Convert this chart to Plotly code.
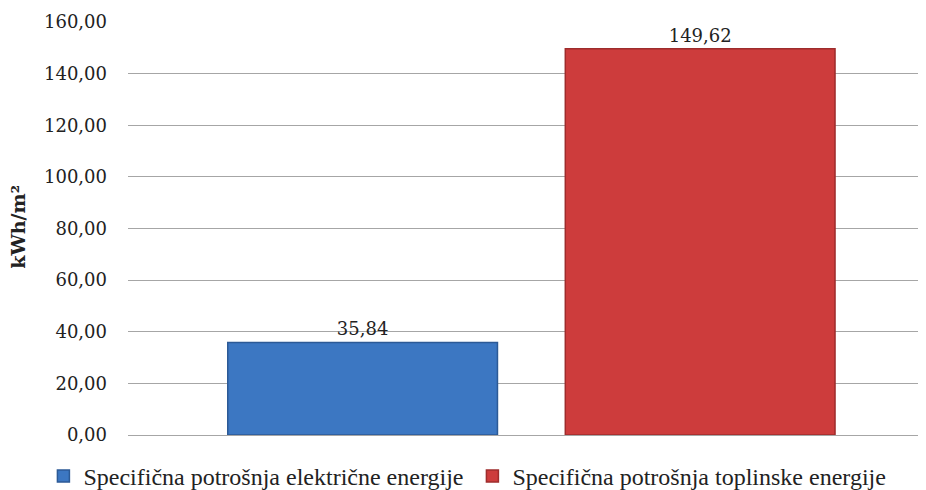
import plotly.graph_objects as go

category = [""]
series_names = ["Specifična potrošnja električne energije", "Specifična potrošnja toplinske energije"]
series_values = [[35.84], [149.62]]
colors = ["#3c77c2", "#cd3c3c"]
line_colors = ["#2c5a96", "#9e2c2c"]
offsets = [-0.375, 0.048]
bar_width = 0.338
y_ticks = [0, 20, 40, 60, 80, 100, 120, 140, 160]
y_title = "<b>kWh/m²</b>"

fig = go.Figure()
for name, vals, c, lc, off in zip(series_names, series_values, colors, line_colors, offsets):
    fig.add_trace(go.Bar(
        x=category, y=vals, name=name,
        marker=dict(color=c, line=dict(color=lc, width=1.5)),
        width=bar_width, offset=off,
        text=vals, texttemplate="%{y:.2f}", textposition="outside",
        textfont=dict(family="DejaVu Serif", size=18, color="#222222"),
        cliponaxis=False,
    ))

fig.add_annotation(text=y_title, xref="paper", yref="paper", x=-0.1375, y=0.505,
                   xanchor="center", yanchor="middle", textangle=-90, showarrow=False,
                   font=dict(family="DejaVu Serif", size=19, color="#222222"))

fig.update_layout(
    width=926, height=490,
    margin=dict(l=120, r=8, t=14, b=63, autoexpand=False),
    paper_bgcolor="white", plot_bgcolor="white",
    separators=",.",
    showlegend=True,
    legend=dict(orientation="h", x=-0.106, xanchor="left", y=-0.1, yanchor="middle",
                font=dict(family="Liberation Serif", size=24, color="#222222"),
                entrywidth=384, entrywidthmode="pixels", tracegroupgap=0),
    barmode="group",
    font=dict(family="DejaVu Serif", size=18, color="#222222"),
)
fig.update_xaxes(showticklabels=False, showgrid=False, zeroline=False, showline=False,
                 range=[-0.5, 0.5], automargin=False)
fig.update_yaxes(range=[0, 160], tickvals=y_ticks, tickformat=".2f", automargin=False,
                 showgrid=True, gridcolor="#a6a6a6", gridwidth=1,
                 zeroline=True, zerolinecolor="#a6a6a6", zerolinewidth=1,
                 ticks="", ticklabelstandoff=20,
                 tickfont=dict(family="DejaVu Serif", size=18, color="#222222"))

fig.write_html("out.html")
